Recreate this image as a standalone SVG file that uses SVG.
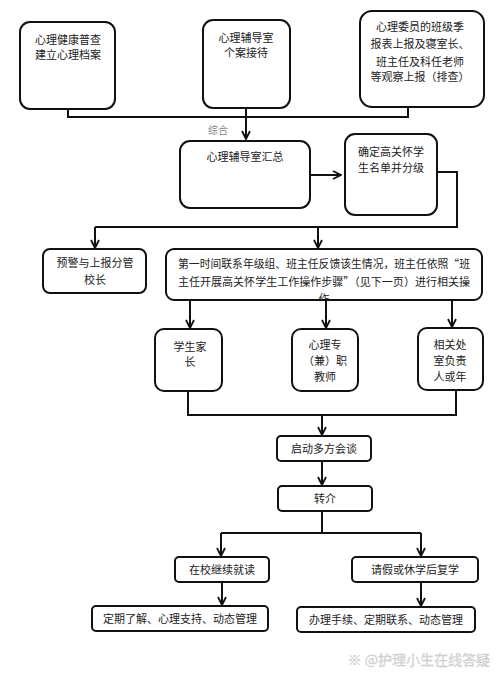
<svg xmlns="http://www.w3.org/2000/svg" width="500" height="678" viewBox="0 0 500 678">
<defs>
<style>
.box{fill:#fff;stroke:#111;stroke-width:2}
.t{font-family:"Noto Sans CJK SC","Liberation Sans",sans-serif;font-size:11px;fill:#222;text-anchor:middle}
.c{fill:none;stroke:#111;stroke-width:2}
.lbl{font-family:"Noto Sans CJK SC","Liberation Sans",sans-serif;font-size:10px;fill:#888;text-anchor:middle}
</style>
<marker id="ah" viewBox="0 0 10 10" refX="9" refY="5" markerWidth="10" markerHeight="10" markerUnits="userSpaceOnUse" orient="auto">
<path d="M1,1 L9,5 L1,9" fill="none" stroke="#111" stroke-width="1.8"/>
</marker>
<clipPath id="bigclip"><rect x="166" y="249" width="316" height="50"/></clipPath>
</defs>
<rect width="500" height="678" fill="#fff"/>
<g id="n1"><rect class="box" x="20" y="22" width="95" height="87" rx="10"/>
<text class="t" x="68" y="44">心理健康普查</text><text class="t" x="68" y="59">建立心理档案</text></g>
<g id="n2"><rect class="box" x="203" y="20" width="87" height="88" rx="10"/>
<text class="t" x="246" y="42">心理辅导室</text><text class="t" x="246" y="57">个案接待</text></g>
<g id="n3"><rect class="box" x="360" y="11" width="124" height="96" rx="12"/>
<text class="t" x="420" y="31">心理委员的班级季</text><text class="t" x="420" y="48">报表上报及寝室长、</text><text class="t" x="420" y="66">班主任及科任老师</text><text class="t" x="420" y="81">等观察上报（排查）</text></g>
<g id="n4"><rect class="box" x="180" y="141" width="130" height="67" rx="10"/>
<text class="t" x="245" y="161">心理辅导室汇总</text></g>
<g id="n5"><rect class="box" x="345" y="134" width="92" height="81" rx="10"/>
<text class="t" x="391" y="156">确定高关怀学</text><text class="t" x="391" y="172">生名单并分级</text></g>
<g id="n6"><rect class="box" x="43" y="249" width="103" height="44" rx="7"/>
<text class="t" x="95" y="267">预警与上报分管</text><text class="t" x="95" y="284">校长</text></g>
<g id="n7"><rect class="box" x="166" y="249" width="316" height="51" rx="8"/>
<text class="t" x="324" y="268" textLength="292" lengthAdjust="spacingAndGlyphs">第一时间联系年级组、班主任反馈该生情况，班主任依照“班</text>
<text class="t" x="324" y="286" textLength="292" lengthAdjust="spacingAndGlyphs">主任开展高关怀学生工作操作步骤”（见下一页）进行相关操</text>
<text class="t" x="324" y="303" clip-path="url(#bigclip)">作</text></g>
<g id="n8"><rect class="box" x="155" y="329" width="67" height="62" rx="9"/>
<text class="t" x="190" y="351">学生家</text><text class="t" x="190" y="366">长</text></g>
<g id="n9"><rect class="box" x="292" y="329" width="66" height="62" rx="9"/>
<text class="t" x="325" y="349">心理专</text><text class="t" x="325" y="365">（兼）职</text><text class="t" x="325" y="381">教师</text></g>
<g id="n10"><rect class="box" x="418" y="328" width="65" height="62" rx="9"/>
<text class="t" x="450" y="349">相关处</text><text class="t" x="450" y="365">室负责</text><text class="t" x="450" y="381">人或年</text></g>
<g id="n11"><rect class="box" x="277" y="436" width="94" height="25" rx="4"/>
<text class="t" x="324" y="453">启动多方会谈</text></g>
<g id="n12"><rect class="box" x="278" y="486" width="94" height="25" rx="4"/>
<text class="t" x="325" y="503">转介</text></g>
<g id="n13"><rect class="box" x="175" y="557" width="94" height="25" rx="4"/>
<text class="t" x="222" y="574">在校继续就读</text></g>
<g id="n14"><rect class="box" x="352" y="557" width="126" height="25" rx="4"/>
<text class="t" x="415" y="574">请假或休学后复学</text></g>
<g id="n15"><rect class="box" x="92" y="606" width="176" height="25" rx="4"/>
<text class="t" x="180" y="623">定期了解、心理支持、动态管理</text></g>
<g id="n16"><rect class="box" x="297" y="607" width="178" height="25" rx="4"/>
<text class="t" x="386" y="624">办理手续、定期联系、动态管理</text></g>
<g id="connectors">
<path class="c" d="M68,109 V117 H408 V107"/>
<path class="c" d="M246,108 V139" marker-end="url(#ah)"/>
<path class="c" d="M310,175 H341" marker-end="url(#ah)"/>
<path class="c" d="M437,172 H457 V227 H95"/>
<path class="c" d="M95,227 V248" marker-end="url(#ah)"/>
<path class="c" d="M318,227 V248" marker-end="url(#ah)"/>
<path class="c" d="M190,300 V328" marker-end="url(#ah)"/>
<path class="c" d="M326,300 V328" marker-end="url(#ah)"/>
<path class="c" d="M452,300 V327" marker-end="url(#ah)"/>
<path class="c" d="M188,391 V415 H456 V390"/>
<path class="c" d="M322,415 V435" marker-end="url(#ah)"/>
<path class="c" d="M322,461 V485" marker-end="url(#ah)"/>
<path class="c" d="M322,511 V533"/>
<path class="c" d="M221,533 H421"/>
<path class="c" d="M221,533 V556" marker-end="url(#ah)"/>
<path class="c" d="M421,533 V556" marker-end="url(#ah)"/>
<path class="c" d="M222,583 V605" marker-end="url(#ah)"/>
<path class="c" d="M421,583 V606" marker-end="url(#ah)"/>
<text class="lbl" x="218" y="134">综合</text>
</g>
<text x="490" y="665" font-family="'Noto Sans CJK SC','Liberation Sans',sans-serif" font-size="14" fill="#dcdcdc" stroke="#c4c4c4" stroke-width="0.3" text-anchor="end">※ @护理小生在线答疑</text>
</svg>
